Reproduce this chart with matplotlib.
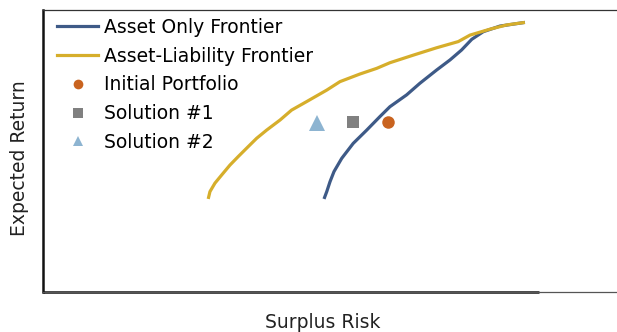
import matplotlib
matplotlib.use("Agg")
import matplotlib.pyplot as plt
from matplotlib.lines import Line2D

# Asset-Liability frontier (surplus risk, expected return)
al_risk = [6.62, 6.69, 6.89, 7.16, 7.49, 7.82, 8.16, 8.56, 8.96, 9.50, 9.96, 10.56,
           11.37, 11.90, 12.70, 13.37, 13.90, 14.84, 15.77, 16.64, 17.11, 17.91, 18.58, 19.31]
al_ret = [3.30, 3.56, 3.86, 4.15, 4.50, 4.80, 5.10, 5.45, 5.74, 6.10, 6.45, 6.75,
          7.16, 7.46, 7.73, 7.93, 8.13, 8.40, 8.66, 8.88, 9.11, 9.32, 9.47, 9.56]

# Asset-only frontier
ao_risk = [11.26, 11.37, 11.50, 11.66, 11.97, 12.43, 12.97, 13.50, 13.90, 14.57,
           15.10, 15.77, 16.31, 16.77, 17.18, 17.64, 18.31, 19.31]
ao_ret = [3.30, 3.56, 3.91, 4.27, 4.74, 5.27, 5.74, 6.22, 6.57, 6.99,
          7.40, 7.87, 8.23, 8.58, 8.96, 9.23, 9.43, 9.56]

# Portfolios
initial = (13.83, 6.02)
solution1 = (12.43, 6.02)
solution2 = (10.99, 5.98)

BLUE = "#3E5A87"
GOLD = "#D6AE2B"
ORANGE = "#C9631F"
GRAY = "#808080"
LIGHTBLUE = "#8DB4D1"
FS = 13.5

fig = plt.figure(figsize=(6.17, 3.32), dpi=100)
ax = fig.add_axes([43 / 617, 40 / 332, 1.0 - 43 / 617, 282 / 332])
ax.set_xlim(0, 23)
ax.set_ylim(0, 10)

ax.plot(ao_risk, ao_ret, color=BLUE, lw=2.3, solid_capstyle="butt")
ax.plot(al_risk, al_ret, color=GOLD, lw=2.3, solid_capstyle="butt")
ax.plot([initial[0]], [initial[1]], "o", color=ORANGE, ms=9, mew=0)
ax.plot([solution1[0]], [solution1[1]], "s", color=GRAY, ms=9, mew=0)
ax.plot([solution2[0]], [solution2[1]], "^", color=LIGHTBLUE, ms=11, mew=0)

ax.set_xticks([])
ax.set_yticks([])
ax.spines["right"].set_visible(False)
ax.spines["left"].set_linewidth(1.8)
ax.spines["left"].set_color("#111111")
ax.spines["top"].set_linewidth(0.9)
ax.spines["top"].set_color("#333333")
ax.spines["bottom"].set_linewidth(0.9)
ax.spines["bottom"].set_color("#555555")
# thicker part of the bottom axis line
ax.plot([0, (539 - 43) / 574 * 23], [0, 0],
        color="#111111", lw=1.8, clip_on=False, solid_capstyle="butt")

handles = [
    Line2D([], [], color=BLUE, lw=2.3),
    Line2D([], [], color=GOLD, lw=2.3),
    Line2D([], [], marker="o", color=ORANGE, ls="none", ms=7, mew=0),
    Line2D([], [], marker="s", color=GRAY, ls="none", ms=7, mew=0),
    Line2D([], [], marker="^", color=LIGHTBLUE, ls="none", ms=7, mew=0),
]
labels = ["Asset Only Frontier", "Asset-Liability Frontier", "Initial Portfolio",
          "Solution #1", "Solution #2"]
ax.legend(handles, labels, loc="upper left", frameon=False, fontsize=FS,
          handlelength=2.2, handletextpad=0.32, labelspacing=0.52,
          borderaxespad=0, borderpad=0,
          bbox_to_anchor=((57 - 43) / 574, 1 - (27 - 10 - 9) / 282))

fig.text(20 / 617, 1 - 158 / 332, "Expected Return", rotation=90, ha="center",
         va="center", fontsize=FS, color="#222222")
fig.text(323 / 617, 1 - 322 / 332, "Surplus Risk", ha="center", va="center",
         fontsize=FS, color="#222222")

fig.savefig("out.png", dpi=100)
